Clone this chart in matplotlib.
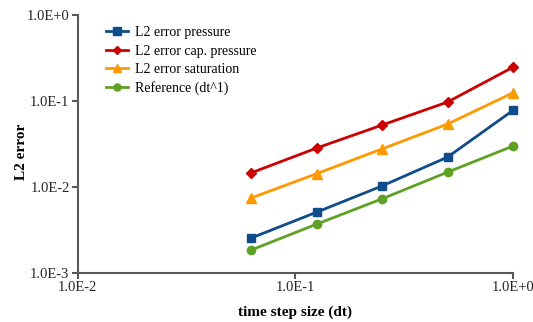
import matplotlib
matplotlib.use("Agg")
import matplotlib.pyplot as plt
from matplotlib.ticker import FixedFormatter, FixedLocator, NullLocator

plt.rcParams['font.family'] = ['Liberation Serif', 'DejaVu Serif']

dt = [1/16, 1/8, 1/4, 1/2, 1.0]
err_pressure = [0.00255, 0.0051, 0.0103, 0.0223, 0.078]
err_cap_pressure = [0.0146, 0.0284, 0.0526, 0.0975, 0.248]
err_saturation = [0.00745, 0.0143, 0.0278, 0.054, 0.125]
reference = [0.00185, 0.0037, 0.0073, 0.0149, 0.030]

labels = ['L2 error pressure', 'L2 error cap. pressure', 'L2 error saturation', 'Reference (dt^1)']
colors = ['#0E4C8C', '#CC0000', '#FF9900', '#5FA125']
markers = ['s', 'D', '^', 'o']
msizes = [6, 5, 7, 6]

xticks = [0.01, 0.1, 1.0]
xticklabels = ['1.0E-2', '1.0E-1', '1.0E+0']
yticks = [0.001, 0.01, 0.1, 1.0]
yticklabels = ['1.0E-3', '1.0E-2', '1.0E-1', '1.0E+0']

fig = plt.figure(figsize=(5.33, 3.22), dpi=100)
ax = fig.add_axes([0.146, 0.152, 0.8165, 0.801])

for y, lab, c, m, ms in zip([err_pressure, err_cap_pressure, err_saturation, reference],
                            labels, colors, markers, msizes):
    ax.plot(dt, y, color=c, marker=m, markersize=ms, linewidth=2, label=lab, clip_on=False)

ax.set_xscale('log')
ax.set_yscale('log')
ax.set_xlim(0.01, 1.0)
ax.set_ylim(0.001, 1.0)
ax.xaxis.set_major_locator(FixedLocator(xticks))
ax.xaxis.set_major_formatter(FixedFormatter(xticklabels))
ax.yaxis.set_major_locator(FixedLocator(yticks))
ax.yaxis.set_major_formatter(FixedFormatter(yticklabels))
ax.xaxis.set_minor_locator(NullLocator())
ax.yaxis.set_minor_locator(NullLocator())

for s in ['top', 'right']:
    ax.spines[s].set_visible(False)
for s in ['left', 'bottom']:
    ax.spines[s].set_color('#595959')
    ax.spines[s].set_linewidth(1.5)
ax.tick_params(axis='both', direction='out', length=4, width=1.5, color='#595959',
               labelsize=10.5, labelcolor='#262626', pad=2)

ax.set_xlabel('time step size (dt)', fontsize=11, fontweight='bold')
ax.set_ylabel('L2 error', fontsize=11, fontweight='bold')
ax.yaxis.set_label_coords(-0.115, 0.47)
ax.xaxis.set_label_coords(0.5, -0.125)

leg = ax.legend(loc='upper left', bbox_to_anchor=(0.035, 1.005), frameon=False, fontsize=10,
                handlelength=1.65, handletextpad=0.5, labelspacing=0.38, markerscale=0.85)

fig.savefig('out.png', dpi=100)
